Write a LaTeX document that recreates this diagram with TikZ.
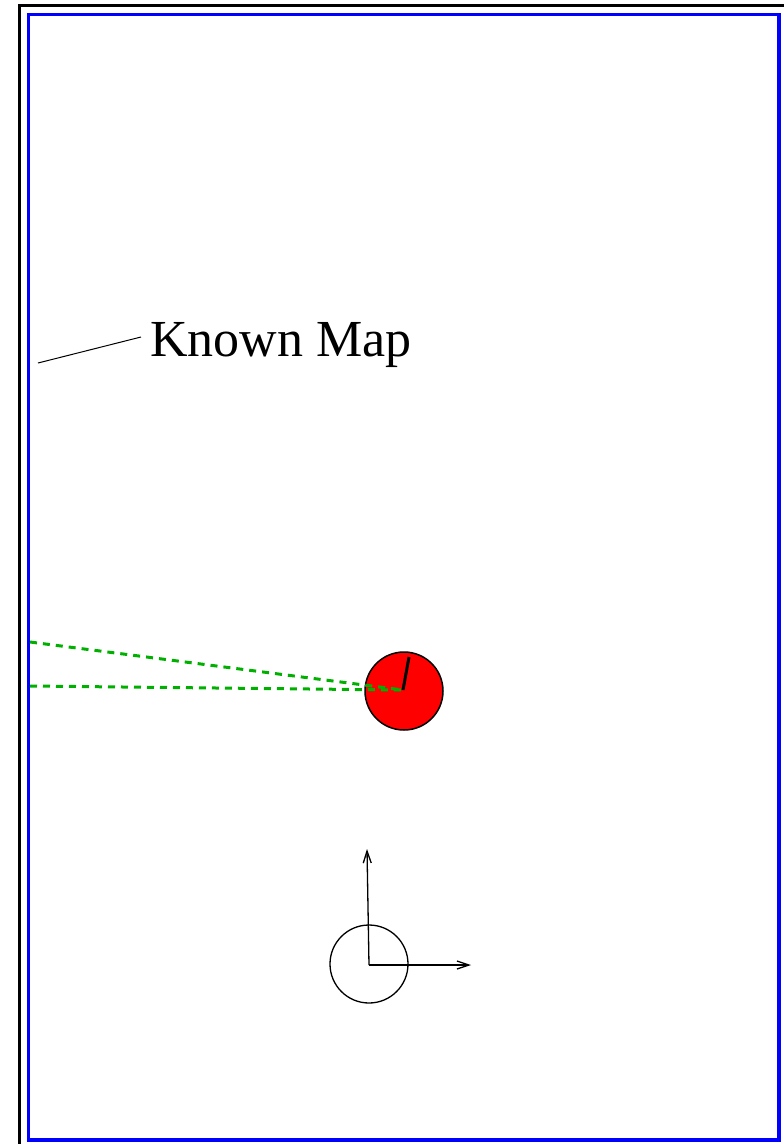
\documentclass[tikz,border=0pt]{standalone}
\usepackage{fontspec}
\setmainfont{Liberation Serif}
\usetikzlibrary{arrows.meta}
\definecolor{mapgreen}{RGB}{0,176,0}
\definecolor{mapblue}{RGB}{0,0,255}
\tikzset{
  frame/.style={draw=black, line width=3.5pt},
  mapframe/.style={draw=mapblue, line width=3.5pt},
  ray/.style={draw=mapgreen, line width=3pt, dash pattern=on 7pt off 6pt},
  axis/.style={draw=black, line width=1.3pt, -{Straight Barb[length=12pt,width=8pt]}},
}
\begin{document}
\begin{tikzpicture}[x=1pt,y=-1pt]
\useasboundingbox (0,0) rectangle (784,1144);
\clip (0,0) rectangle (784,1144);
\draw[frame] (19.5,5.5) rectangle (820,1180);
\draw[mapframe] (28.5,14.5) rectangle (779,1140);
% label
\node[anchor=base west, inner sep=0pt, font=\fontsize{52}{60}\selectfont] (lbl) at (150,356) {Known Map};
\coordinate (lblend) at (141,337);
\coordinate (lblstart) at (38,363);
\draw[line width=1pt] (lblstart) -- (lblend);
% robot
\node[circle, draw=black, fill=red, line width=1.5pt, minimum size=78pt, inner sep=0pt] (robot) at (404,691) {};
\coordinate (rc) at (403,690);
\coordinate (ray1) at (30,642);
\coordinate (ray2) at (30,686);
\draw[ray] (ray1) -- (rc);
\draw[ray] (ray2) -- (rc);
\coordinate (head) at (409,657);
\draw[line width=3pt] (rc) -- (head);
% origin
\node[circle, draw=black, line width=1.3pt, minimum size=78pt, inner sep=0pt] (orig) at (369,964) {};
\coordinate (o) at (369,965);
\coordinate (ytip) at (367,849);
\coordinate (xtip) at (471,965);
\draw[axis] (o) -- (ytip);
\draw[axis] (o) -- (xtip);
\end{tikzpicture}
\end{document}
